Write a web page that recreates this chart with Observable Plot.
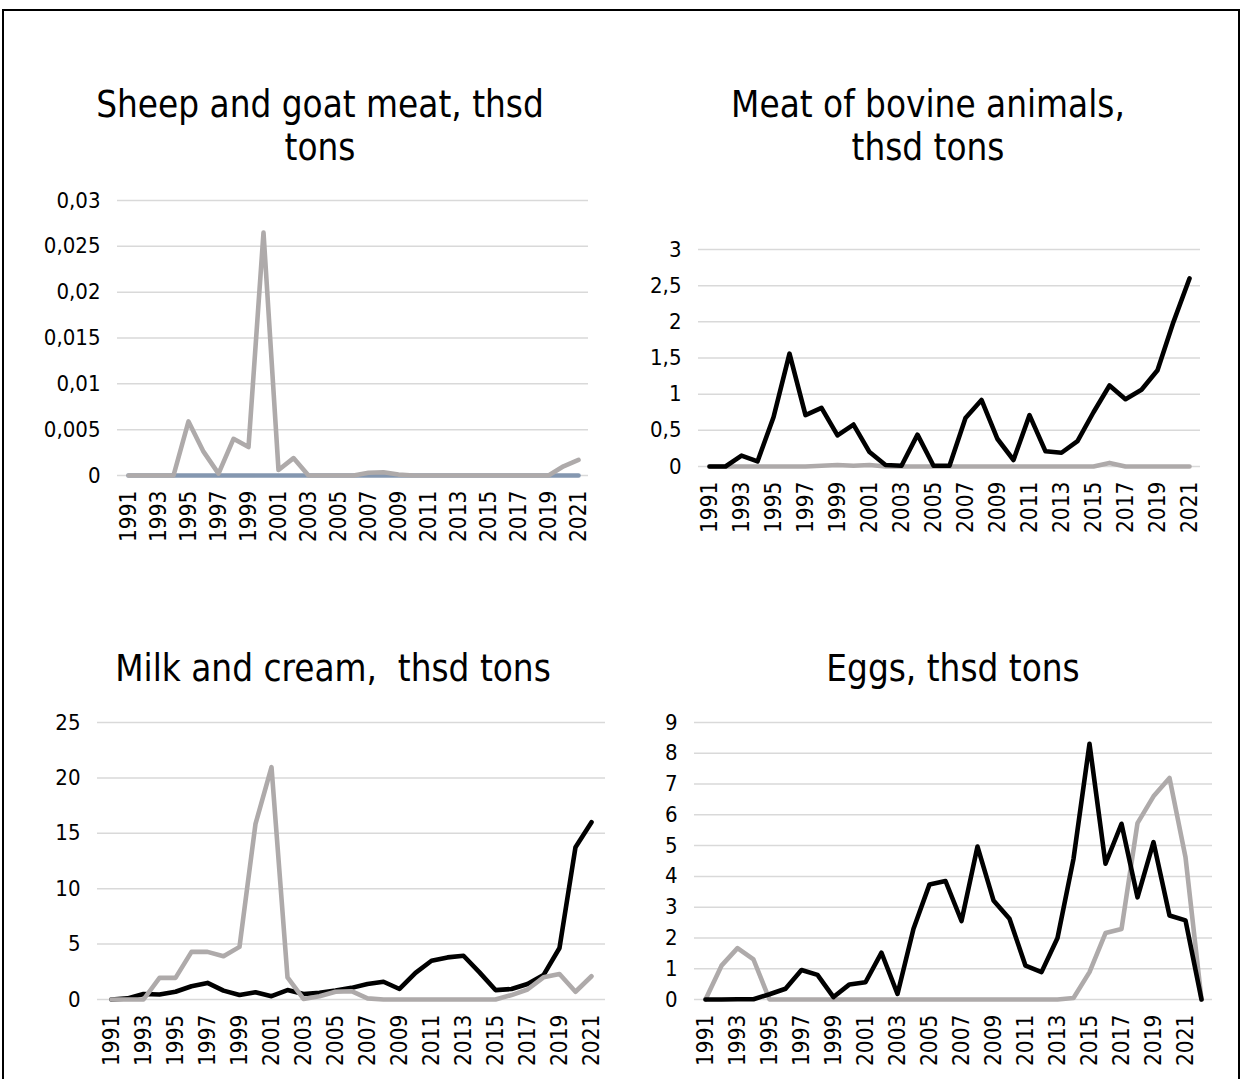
<!DOCTYPE html>
<html>
<head>
<meta charset="utf-8">
<script src="https://cdn.jsdelivr.net/npm/d3@7"></script>
<script src="https://cdn.jsdelivr.net/npm/@observablehq/plot@0.6"></script>
<style>
  html, body { margin: 0; padding: 0; background: #fff; overflow: hidden; }
  #page { position: relative; width: 1242px; height: 1079px; background: #fff; }
  #frame { position: absolute; left: 2px; top: 9px; width: 1238px; height: 1100px; border: 2px solid #000; box-sizing: border-box; }
  .title { position: absolute; font-family: "DejaVu Sans Condensed", "DejaVu Sans", sans-serif; font-size: 36.5px; line-height: 43px; text-align: center; color: #000; white-space: pre; }
  .panel { position: absolute; }
</style>
</head>
<body>
<div id="page">
  <div id="frame"></div>
</div>
<script>
// ---- data ----
const years31 = d3.range(1991, 2022);          // 1991..2021
const years32 = d3.range(1991, 2023);          // 1991..2022
const tickYears = d3.range(1991, 2022, 2);     // 1991,1993,...,2021

const sheepGray = [0, 0, 0, 0, 0.0059, 0.0026, 0.0002, 0.0040, 0.0031, 0.0265, 0.0006, 0.0019, 0, 0, 0, 0, 0.0003, 0.00035, 0.0001, 0, 0, 0, 0, 0, 0, 0, 0, 0, 0, 0.001, 0.0017];
const sheepBlue = [0, 0, 0, 0, 0, 0, 0, 0, 0, 0, 0, 0, 0, 0, 0, 0, 0, 0, 0, 0, 0, 0, 0, 0, 0, 0, 0, 0, 0, 0, 0];

const bovineBlack = [0, 0, 0.15, 0.07, 0.68, 1.56, 0.71, 0.81, 0.43, 0.58, 0.2, 0.02, 0.01, 0.44, 0.01, 0.01, 0.67, 0.92, 0.38, 0.09, 0.71, 0.21, 0.19, 0.35, 0.75, 1.12, 0.93, 1.06, 1.33, 2.0, 2.6];
const bovineGray = [0, 0, 0, 0, 0, 0, 0, 0.01, 0.02, 0.01, 0.02, 0, 0, 0, 0, 0, 0, 0, 0, 0, 0, 0, 0, 0, 0, 0.05, 0, 0, 0, 0, 0];

const milkBlack = [0, 0.1, 0.5, 0.45, 0.7, 1.2, 1.5, 0.8, 0.4, 0.65, 0.3, 0.85, 0.5, 0.6, 0.8, 1.05, 1.4, 1.6, 0.95, 2.4, 3.5, 3.8, 3.95, 2.45, 0.85, 0.95, 1.4, 2.2, 4.65, 13.75, 16.0];
const milkGray = [0, 0, 0, 1.95, 1.95, 4.3, 4.3, 3.9, 4.75, 15.85, 20.97, 2.0, 0.05, 0.3, 0.7, 0.75, 0.1, 0, 0, 0, 0, 0, 0, 0, 0, 0.4, 0.9, 2.0, 2.3, 0.7, 2.1];

const eggsBlack = [0, 0, 0.01, 0.01, 0.17, 0.35, 0.96, 0.8, 0.08, 0.49, 0.56, 1.52, 0.18, 2.3, 3.74, 3.85, 2.55, 4.97, 3.22, 2.62, 1.1, 0.89, 2.0, 4.57, 8.31, 4.41, 5.71, 3.32, 5.11, 2.73, 2.57, 0];
const eggsGray = [0, 1.1, 1.67, 1.3, 0, 0, 0, 0, 0, 0, 0, 0, 0, 0, 0, 0, 0, 0, 0, 0, 0, 0, 0, 0.05, 0.89, 2.16, 2.29, 5.73, 6.6, 7.2, 4.62, 0];

const GRAY = "#aeaaaa", BLACK = "#000000", BLUE = "#8497b0";
const fmt = d => String(d).replace(".", ",");
const FONT = "'DejaVu Sans Condensed', 'DejaVu Sans', sans-serif";

function rows(years, vals) { return years.map((y, i) => ({ year: y, value: vals[i] })); }

function panel({ left, top, width, height, ml, mr, mt, mb, years, yMax, yStep, series, title, tLeft, tWidth, tTop }) {
  const page = document.getElementById("page");
  const yTicks = d3.range(0, yMax + yStep / 2, yStep).map(v => +v.toFixed(6));
  const marks = [
    Plot.gridY(yTicks, { stroke: "#d9d9d9", strokeOpacity: 1, strokeWidth: 1.5 }),
    Plot.axisY(yTicks, { tickSize: 0, tickPadding: 17, tickFormat: fmt, label: null, fontSize: 22 }),
    Plot.axisX(tickYears, { tickSize: 0, tickRotate: -90, tickPadding: 15, tickFormat: d => String(d), label: null, fontSize: 22.5 }),
    ...series.map(s => Plot.lineY(rows(years, s.values), {
      x: "year", y: "value", stroke: s.color, strokeWidth: 4.6,
      strokeLinejoin: "round", strokeLinecap: "round"
    }))
  ];
  const chart = Plot.plot({
    width, height,
    marginLeft: ml, marginRight: mr, marginTop: mt, marginBottom: mb,
    x: { type: "point", domain: years, padding: 0.5 },
    y: { domain: [0, yMax] },
    style: { fontFamily: FONT, fontSize: "22px", color: "#000", background: "transparent", overflow: "visible" },
    marks
  });
  const wrap = document.createElement("div");
  wrap.className = "panel";
  wrap.style.left = left + "px";
  wrap.style.top = top + "px";
  wrap.appendChild(chart);
  page.appendChild(wrap);

  const t = document.createElement("div");
  t.className = "title";
  t.style.left = tLeft + "px";
  t.style.width = tWidth + "px";
  t.style.top = tTop + "px";
  t.textContent = title;
  page.appendChild(t);
}

panel({
  left: 0, top: 185, width: 610, height: 385, ml: 117, mr: 22, mt: 15, mb: 95,
  years: years31, yMax: 0.03, yStep: 0.005,
  series: [{ values: sheepBlue, color: BLUE }, { values: sheepGray, color: GRAY }],
  title: "Sheep and goat meat, thsd\ntons", tLeft: 0, tWidth: 640, tTop: 83
});

panel({
  left: 620, top: 234, width: 600, height: 327, ml: 78, mr: 20, mt: 15, mb: 95,
  years: years31, yMax: 3, yStep: 0.5,
  series: [{ values: bovineGray, color: GRAY }, { values: bovineBlack, color: BLACK }],
  title: "Meat of bovine animals,\nthsd tons", tLeft: 620, tWidth: 616, tTop: 83
});

panel({
  left: 0, top: 707, width: 620, height: 372, ml: 97, mr: 15, mt: 15, mb: 80,
  years: years31, yMax: 25, yStep: 5,
  series: [{ values: milkBlack, color: BLACK }, { values: milkGray, color: GRAY }],
  title: "Milk and cream,  thsd tons", tLeft: 0, tWidth: 666, tTop: 647
});

panel({
  left: 620, top: 707, width: 610, height: 372, ml: 74, mr: 18, mt: 15, mb: 80,
  years: years32, yMax: 9, yStep: 1,
  series: [{ values: eggsGray, color: GRAY }, { values: eggsBlack, color: BLACK }],
  title: "Eggs, thsd tons", tLeft: 620, tWidth: 666, tTop: 647
});
</script>
</body>
</html>
